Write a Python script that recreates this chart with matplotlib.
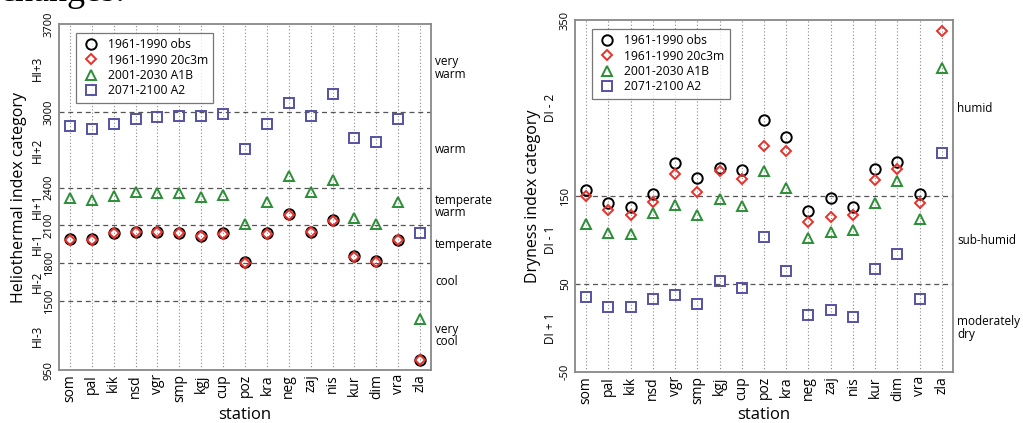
import numpy as np
import matplotlib
matplotlib.use('Agg')
import matplotlib.pyplot as plt

plt.rcParams['font.family'] = ['Open Sans', 'DejaVu Sans']

stations = ['som', 'pal', 'kik', 'nsd', 'vgr', 'smp', 'kgj', 'cup', 'poz',
            'kra', 'neg', 'zaj', 'nis', 'kur', 'dim', 'vra', 'zla']
series_names = ['1961-1990 obs', '1961-1990 20c3m', '2001-2030 A1B', '2071-2100 A2']

# heliothermal index
hi_obs = [1988, 1988, 2041, 2049, 2049, 2041, 2017, 2036, 1805, 2036, 2190, 2049, 2142, 1856, 1816, 1983, 1029]
hi_20c = [1985, 1985, 2038, 2046, 2046, 2038, 2014, 2033, 1802, 2033, 2185, 2046, 2138, 1852, 1812, 1980, 1026]
hi_a1b = [2314, 2298, 2335, 2362, 2359, 2354, 2327, 2341, 2110, 2288, 2494, 2362, 2457, 2155, 2110, 2288, 1355]
hi_a2 = [2892, 2863, 2908, 2947, 2958, 2971, 2971, 2987, 2706, 2905, 3075, 2971, 3141, 2791, 2762, 2947, 2036]
hi_ticks = [950, 1500, 1800, 2100, 2400, 3000, 3700]
hi_bounds = [1500, 1800, 2100, 2400, 3000]
hi_cat_y = [3350, 2700, 2250, 1950, 1650, 1225]
hi_cat = ['HI+3', 'HI+2', 'HI+1', 'HI-1', 'HI-2', 'HI-3']
hi_class = ['very\nwarm', 'warm', 'temperate\nwarm', 'temperate', 'cool', 'very\ncool']

# dryness index
di_obs = [157, 142, 137, 152, 188, 170, 181.5, 179.5, 236, 217, 133, 148, 137, 181, 189, 152, np.nan]
di_20c = [150, 134, 128, 143.5, 175, 154, 178, 169, 207, 201, 121, 126.5, 128, 168, 181, 142, 337]
di_a1b = [118, 108, 107, 131, 140, 128, 147, 139, 178, 159, 102, 109.5, 111, 142, 167, 123.5, 295]
di_a2 = [35.6, 24, 24, 33, 37, 27, 53, 46, 103, 65, 15, 21, 13, 67, 84, 33, 198.5]
di_ticks = [-50, 50, 150, 350]
di_bounds = [50, 150]
di_cat_y = [250, 100, 0]
di_cat = ['DI - 2', 'DI - 1', 'DI + 1']
di_class = ['humid', 'sub-humid', 'moderately\ndry']

styles = [dict(marker='o', color='black', ms=7.5),
          dict(marker='D', color='#e8302a', ms=5.6),
          dict(marker='^', color='#2a8f35', ms=7.5),
          dict(marker='s', color='#5452a3', ms=6.8)]

fig = plt.figure(figsize=(10.23, 4.23), dpi=100)
# bottom of a line of page text cut off by the figure's top edge
fig.text(0.0, 1 - 1 / 423, 'changes:', fontsize=26, family='Liberation Serif',
         ha='left', va='baseline')


def panel(rect, data, ticks, bounds, cat_y, cat, cls, ylabel, cat_off, cls_off, ylab_x, xlab_y):
    ax = fig.add_axes(rect)
    x = np.arange(1, len(stations) + 1)
    for xi in x:
        ax.axvline(xi, color='#888888', lw=0.8, ls=(0, (1, 2)), zorder=0)
    for b in bounds:
        ax.axhline(b, color='#555555', lw=0.9, ls=(0, (4, 3)), zorder=0)
    for vals, st, name in zip(data, styles, series_names):
        ax.plot(x, vals, ls='none', marker=st['marker'], ms=st['ms'], mfc='none',
                mec=st['color'], mew=1.4, label=name)
    ax.set_xlim(0.5, len(stations) + 0.5)
    ax.set_ylim(ticks[0], ticks[-1])
    ax.set_xticks(x)
    ax.set_xticklabels(stations, rotation=90, fontsize=10)
    ax.set_yticks(ticks)
    ax.set_yticklabels([str(t) for t in ticks], rotation=90, va='center', fontsize=8)
    ax.tick_params(length=0, pad=3)
    for sp in ax.spines.values():
        sp.set_color('#888888')
        sp.set_linewidth(1.3)
    for yv, lab, c in zip(cat_y, cat, cls):
        ax.annotate(lab, xy=(0, yv), xycoords=('axes fraction', 'data'),
                    xytext=(cat_off, 0), textcoords='offset pixels',
                    rotation=90, ha='center', va='center', fontsize=8.5)
        ax.annotate(c, xy=(1, yv), xycoords=('axes fraction', 'data'),
                    xytext=(cls_off, 0), textcoords='offset pixels',
                    ha='left', va='center', fontsize=8.5, linespacing=0.95)
    ax.set_ylabel(ylabel, fontsize=11.5, va='center')
    ax.yaxis.set_label_coords(ylab_x, 0.5)
    ax.set_xlabel('station', fontsize=12)
    ax.xaxis.label.set_va('baseline')
    ax.xaxis.set_label_coords(0.5, xlab_y)
    leg = ax.legend(loc='upper left', bbox_to_anchor=(0.045, 0.975), fontsize=8.7,
                    frameon=True, fancybox=False, borderpad=0.45, labelspacing=0.2,
                    handletextpad=0.6, handlelength=1.6, borderaxespad=0)
    leg.get_frame().set_edgecolor('#555555')
    leg.get_frame().set_linewidth(0.9)
    return ax


panel([59 / 1023, 53 / 423, 372 / 1023, 346 / 423],
      [hi_obs, hi_20c, hi_a1b, hi_a2], hi_ticks, hi_bounds, hi_cat_y, hi_cat, hi_class,
      'Heliothermal index category', -22, 4, -0.108, -0.142)
panel([575 / 1023, 51 / 423, 378 / 1023, 352 / 423],
      [di_obs, di_20c, di_a1b, di_a2], di_ticks, di_bounds, di_cat_y, di_cat, di_class,
      'Dryness index category', -25, 4, -0.11, -0.134)

fig.savefig('out.png', dpi=100)
